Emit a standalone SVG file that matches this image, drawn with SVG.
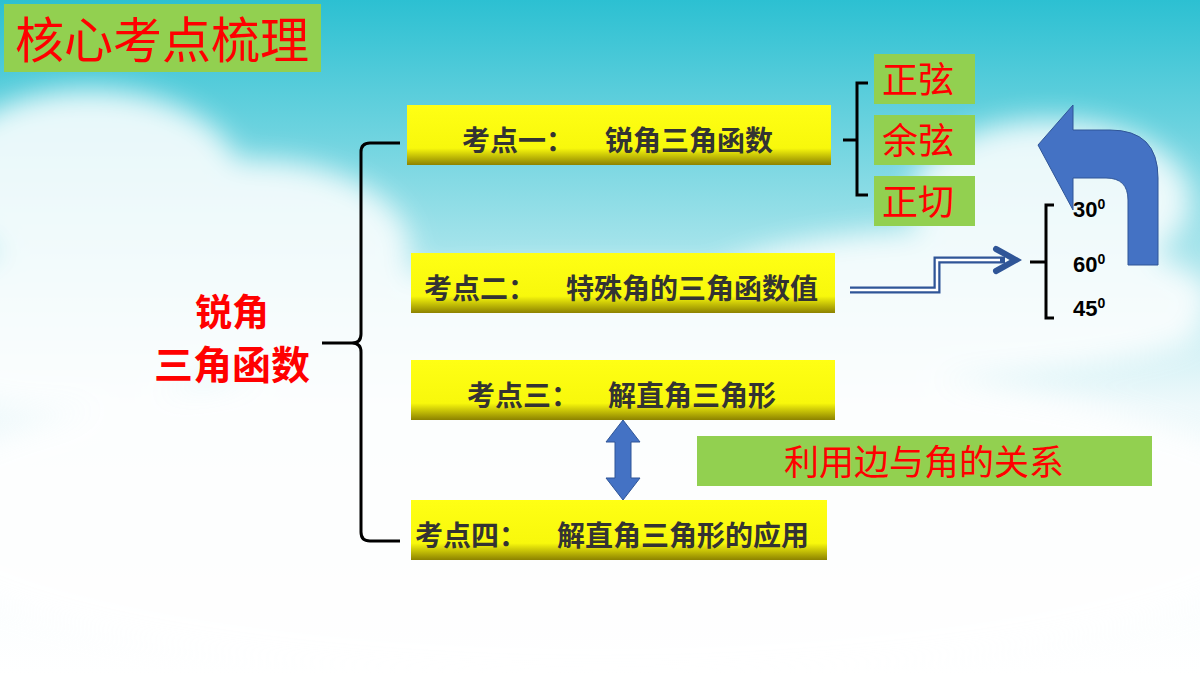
<svg xmlns="http://www.w3.org/2000/svg" width="1200" height="675" viewBox="0 0 1200 675">
<defs>
<linearGradient id="sky" x1="0" y1="0" x2="0" y2="1">
<stop offset="0" stop-color="#2cc0d2"/><stop offset="0.3" stop-color="#8fdde6"/><stop offset="0.6" stop-color="#eef9fb"/><stop offset="1" stop-color="#ffffff"/>
</linearGradient>
<linearGradient id="yel" x1="0" y1="0" x2="0" y2="1">
<stop offset="0" stop-color="#ffff14"/><stop offset="0.72" stop-color="#f8f80c"/><stop offset="1" stop-color="#8c8200"/>
</linearGradient>
<filter id="blur"><feGaussianBlur stdDeviation="14"/></filter>
<marker id="chev" viewBox="0 0 30 30" refX="24" refY="15" markerWidth="30" markerHeight="30" markerUnits="userSpaceOnUse" orient="auto"><path d="M4,4 L24,15 L4,26" fill="none" stroke="#2f5597" stroke-width="6" stroke-linecap="round"/></marker>
</defs>
<style>
.y{fill:url(#yel)}
.g{fill:#92d050}
.kt{font-family:"Noto Sans CJK SC",sans-serif;font-weight:bold;font-size:28px;fill:#333}
.rt{font-family:"Noto Sans CJK SC",sans-serif;font-size:36px;fill:#ff0000}
.br{fill:none;stroke:#000;stroke-width:3}
.dg{font-family:"Liberation Sans",sans-serif;font-weight:bold;font-size:22px;fill:#000}
</style>
<rect width="1200" height="675" fill="url(#sky)"/>
<g filter="url(#blur)" fill="#fff" opacity="0.85">
<ellipse cx="90" cy="180" rx="150" ry="90"/><ellipse cx="250" cy="250" rx="160" ry="90"/><ellipse cx="60" cy="330" rx="170" ry="80"/>
<ellipse cx="1050" cy="200" rx="140" ry="80"/><ellipse cx="950" cy="300" rx="260" ry="70"/><ellipse cx="600" cy="330" rx="600" ry="60"/>
<ellipse cx="600" cy="520" rx="700" ry="160"/>
</g>
<g id="title"><rect x="4" y="4" width="317" height="68" fill="#92d050"/><text x="162" y="58" text-anchor="middle" font-family="Noto Sans CJK SC,sans-serif" font-size="49" fill="#ff0000">核心考点梳理</text></g>
<g id="root"><text x="232" y="326" text-anchor="middle" font-family="Noto Sans CJK SC,sans-serif" font-weight="bold" font-size="37" fill="#ff0000">锐角</text><text x="232" y="379" text-anchor="middle" font-family="Noto Sans CJK SC,sans-serif" font-weight="bold" font-size="39" fill="#ff0000">三角函数</text></g>
<g id="k1"><rect class="y" x="407" y="105" width="424" height="60"/><text class="kt" x="462" y="151">考点一：</text><text class="kt" x="605" y="151">锐角三角函数</text></g>
<g id="k2"><rect class="y" x="411" y="253" width="424" height="60"/><text class="kt" x="424" y="299">考点二：</text><text class="kt" x="566" y="299">特殊角的三角函数值</text></g>
<g id="k3"><rect class="y" x="411" y="360" width="424" height="60"/><text class="kt" x="467" y="406">考点三：</text><text class="kt" x="608" y="406">解直角三角形</text></g>
<g id="k4"><rect class="y" x="411" y="500" width="416" height="60"/><text class="kt" x="415" y="546">考点四：</text><text class="kt" x="557" y="546">解直角三角形的应用</text></g>
<g id="sin"><rect class="g" x="874" y="54" width="101" height="50"/><text class="rt" x="882" y="93">正弦</text></g>
<g id="cos"><rect class="g" x="874" y="115" width="101" height="50"/><text class="rt" x="882" y="154">余弦</text></g>
<g id="tan"><rect class="g" x="874" y="176" width="101" height="50"/><text class="rt" x="882" y="215">正切</text></g>
<g id="rel"><rect class="g" x="697" y="436" width="455" height="50"/><text x="924" y="475" text-anchor="middle" font-family="Noto Sans CJK SC,sans-serif" font-size="35" fill="#ff0000">利用边与角的关系</text></g>
<g id="deg">
<text class="dg" x="1073" y="217">30<tspan font-size="14" dy="-8">0</tspan></text>
<text class="dg" x="1073" y="272">60<tspan font-size="14" dy="-8">0</tspan></text>
<text class="dg" x="1073" y="316">45<tspan font-size="14" dy="-8">0</tspan></text>
</g>
<g id="connectors">
<path class="br" d="M400,143 H370 Q361,143 361,152 V334 Q361,343 352,343 H322 M352,343 Q361,343 361,352 V532 Q361,541 370,541 H400"/>
<path class="br" d="M868,83 H857 V195 H868 M843,140 H857"/>
<path class="br" d="M1054,205 H1046 V318 H1054 M1030,262 H1046"/>
<path d="M850,290 H937 V260 H1005" fill="none" stroke="#2f5597" stroke-width="7"/>
<path d="M850,290 H937 V260 H1000" fill="none" stroke="#fff" stroke-width="2.5"/>
<path d="M1005,260 H1016" fill="none" stroke="none" marker-end="url(#chev)"/>
<path d="M1128,265 V200 Q1128,178 1106,178 H1073 V210 L1038,145 L1073,105 V130 H1110 Q1158,130 1158,178 V265 Z" fill="#4472c4" stroke="#2f5597" stroke-width="1"/>
<path d="M623,420 L640,442 H631 V478 H640 L623,500 L606,478 H615 V442 H606 Z" fill="#4472c4" stroke="#2f5597" stroke-width="1"/>
</g>
</svg>
